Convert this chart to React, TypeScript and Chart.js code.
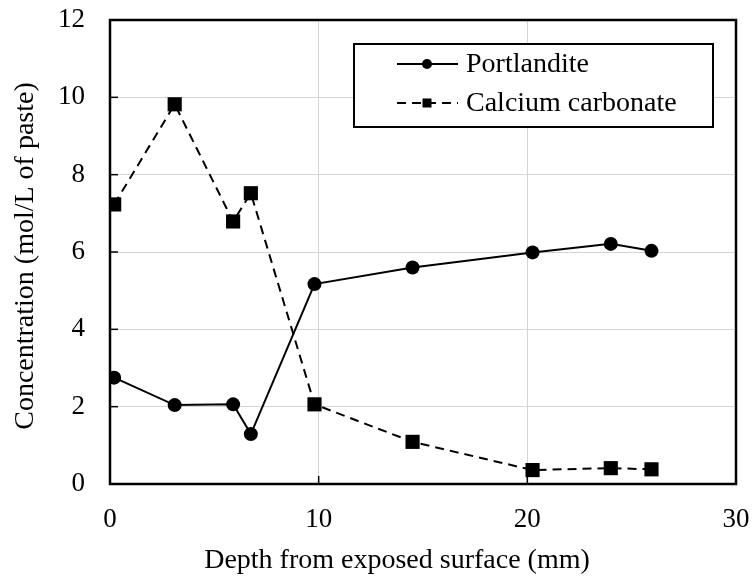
import React, { useEffect, useRef } from "react";
import { Chart, registerables } from "chart.js";

Chart.register(...registerables);

// Depth of each sampled slice (mm)
const depthMm = [0.2, 3.1, 5.9, 6.75, 9.8, 14.5, 20.25, 24.0, 25.95];
// Concentrations (mol/L of paste)
const portlandite = [2.75, 2.04, 2.06, 1.29, 5.17, 5.6, 5.99, 6.21, 6.03];
const calciumCarbonate = [7.23, 9.82, 6.79, 7.52, 2.06, 1.09, 0.36, 0.41, 0.38];

const seriesNames = ["Portlandite", "Calcium carbonate"];
const xTicks = [0, 10, 20, 30];
const yTicks = [0, 2, 4, 6, 8, 10, 12];
const xTitle = "Depth from exposed surface (mm)";
const yTitle = "Concentration (mol/L of paste)";

const FONT = "'Liberation Serif', 'DejaVu Serif', serif";

// Let the layout padding alone decide the plot edges
const noLabelPadding = (s: any) => {
  s.paddingLeft = 0;
  s.paddingRight = 0;
  s.paddingTop = 0;
  s.paddingBottom = 0;
};

// Outer frame and short inward tick marks around the plot area
const framePlugin = {
  id: "frame",
  beforeDatasetsDraw(chart: any) {
    const { ctx, chartArea: a, scales } = chart;
    ctx.save();
    ctx.strokeStyle = "#000";
    ctx.lineWidth = 1.5;
    for (const v of xTicks) {
      const px = scales.x.getPixelForValue(v);
      if (px <= a.left + 1 || px >= a.right - 1) continue;
      ctx.beginPath();
      ctx.moveTo(px, a.bottom);
      ctx.lineTo(px, a.bottom - 8);
      ctx.stroke();
    }
    for (const v of yTicks) {
      const py = scales.y.getPixelForValue(v);
      if (py <= a.top + 1 || py >= a.bottom - 1) continue;
      ctx.beginPath();
      ctx.moveTo(a.left, py);
      ctx.lineTo(a.left + 8, py);
      ctx.stroke();
    }
    ctx.lineWidth = 2.5;
    ctx.strokeRect(a.left, a.top, a.right - a.left, a.bottom - a.top);
    ctx.restore();
  },
};

// Axis titles, placed relative to the plot area
const axisTitlePlugin = {
  id: "axisTitles",
  afterDraw(chart: any) {
    const { ctx, chartArea: a } = chart;
    ctx.save();
    ctx.fillStyle = "#000";
    ctx.font = `28px ${FONT}`;
    ctx.textAlign = "center";
    ctx.textBaseline = "alphabetic";
    ctx.fillText(xTitle, a.left + 287, a.bottom + 84);
    ctx.translate(33, (a.top + a.bottom) / 2 + 4);
    ctx.rotate(-Math.PI / 2);
    ctx.fillText(yTitle, 0, 0);
    ctx.restore();
  },
};

// Boxed legend inside the plot, with line-and-marker samples
const legendPlugin = {
  id: "boxLegend",
  afterDraw(chart: any) {
    const { ctx, chartArea: a } = chart;
    const bx = a.left + 244;
    const by = a.top + 24;
    const bw = 359;
    const bh = 83;
    ctx.save();
    ctx.fillStyle = "#fff";
    ctx.fillRect(bx, by, bw, bh);
    ctx.strokeStyle = "#000";
    ctx.lineWidth = 2;
    ctx.strokeRect(bx, by, bw, bh);

    const rows = [by + 20, by + 59];
    chart.data.datasets.forEach((ds: any, i: number) => {
      const y = rows[i];
      const x0 = bx + 43;
      const x1 = bx + 104;
      const cx = bx + 73;
      ctx.strokeStyle = "#000";
      ctx.lineWidth = 2;
      ctx.setLineDash(ds.borderDash || []);
      ctx.beginPath();
      ctx.moveTo(x0, y);
      ctx.lineTo(x1, y);
      ctx.stroke();
      ctx.setLineDash([]);
      ctx.fillStyle = "#000";
      if (ds.pointStyle === "rect") {
        ctx.fillRect(cx - 4.5, y - 4.5, 9, 9);
      } else {
        ctx.beginPath();
        ctx.arc(cx, y, 5, 0, Math.PI * 2);
        ctx.fill();
      }
      ctx.font = `28px ${FONT}`;
      ctx.textBaseline = "middle";
      ctx.textAlign = "left";
      ctx.fillText(ds.label, bx + 112, y + 1);
    });
    ctx.restore();
  },
};

export default function App() {
  const ref = useRef<HTMLCanvasElement | null>(null);

  useEffect(() => {
    if (!ref.current) return;
    const toPoints = (vals: number[]) => depthMm.map((x, i) => ({ x, y: vals[i] }));
    const chart = new Chart(ref.current, {
      type: "line",
      data: {
        datasets: [
          {
            label: seriesNames[0],
            data: toPoints(portlandite),
            borderColor: "#000",
            backgroundColor: "#000",
            borderWidth: 2,
            pointStyle: "circle",
            pointRadius: 7,
            pointBorderWidth: 0,
            pointBackgroundColor: "#000",
            tension: 0,
          },
          {
            label: seriesNames[1],
            data: toPoints(calciumCarbonate),
            borderColor: "#000",
            backgroundColor: "#000",
            borderWidth: 2,
            borderDash: [9, 6],
            pointStyle: "rect",
            pointRadius: 10,
            pointBorderWidth: 0,
            pointBackgroundColor: "#000",
            tension: 0,
          },
        ],
      },
      options: {
        responsive: false,
        animation: false,
        layout: { padding: { top: 20, right: 16, left: 0, bottom: 0 } },
        plugins: {
          legend: { display: false },
          tooltip: { enabled: false },
        },
        scales: {
          x: {
            type: "linear",
            min: 0,
            max: 30,
            afterBuildTicks: (s: any) => {
              s.ticks = xTicks.map((v) => ({ value: v }));
            },
            afterFit: (s: any) => {
              s.height = 95;
              noLabelPadding(s);
            },
            grid: { color: "#d4d4d4", lineWidth: 1, drawTicks: false },
            border: { display: false },
            ticks: {
              color: "#000",
              padding: 20,
              font: { family: FONT, size: 27 },
            },
            title: { display: false },
          },
          y: {
            type: "linear",
            min: 0,
            max: 12,
            afterBuildTicks: (s: any) => {
              s.ticks = yTicks.map((v) => ({ value: v }));
            },
            afterFit: (s: any) => {
              s.width = 110;
              noLabelPadding(s);
            },
            grid: { color: "#d4d4d4", lineWidth: 1, drawTicks: false },
            border: { display: false },
            ticks: {
              color: "#000",
              padding: 25,
              font: { family: FONT, size: 27 },
            },
            title: { display: false },
          },
        },
      },
      plugins: [framePlugin, axisTitlePlugin, legendPlugin],
    });
    return () => chart.destroy();
  }, []);

  return (
    <div style={{ position: "absolute", left: 0, top: 0, width: 752, height: 579, background: "#fff" }}>
      <canvas ref={ref} width={752} height={579} style={{ display: "block" }} />
    </div>
  );
}
